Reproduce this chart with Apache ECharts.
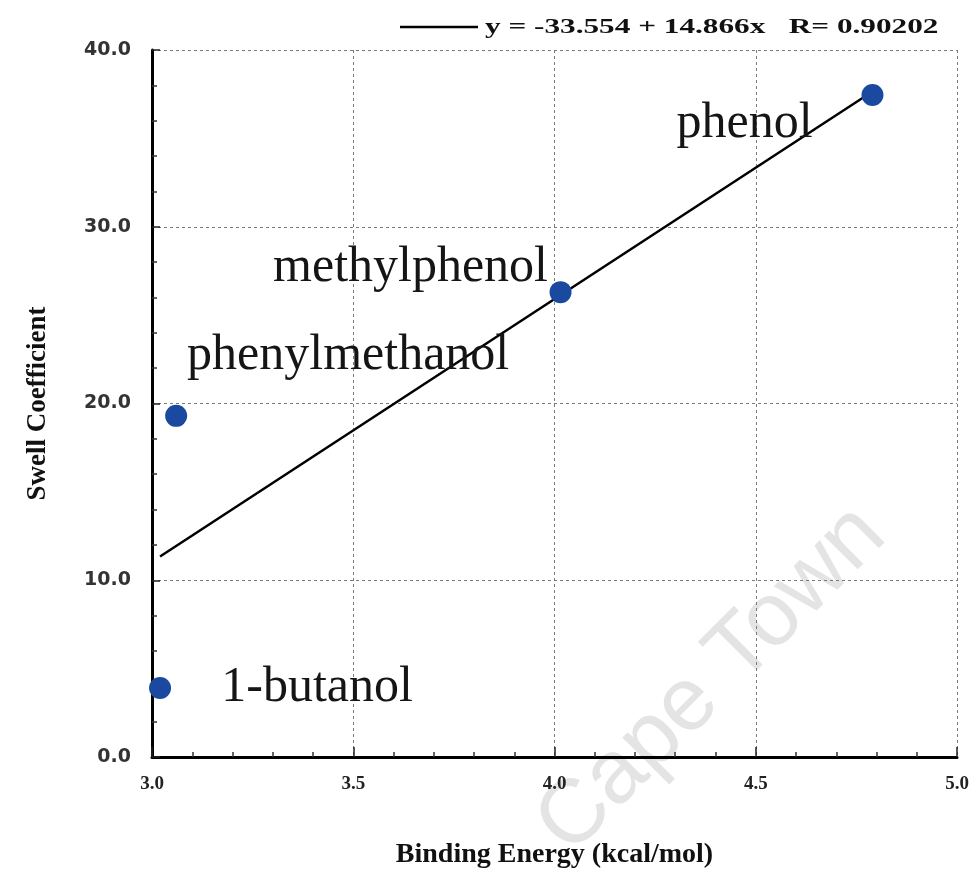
<!DOCTYPE html>
<html><head><meta charset="utf-8">
<script src="https://cdn.jsdelivr.net/npm/echarts@6/dist/echarts.min.js"></script>
<style>html,body{margin:0;padding:0;background:#fff}#c{width:974px;height:879px}</style>
</head><body><div id="c"></div>
<script>
const names = ['1-butanol', 'phenylmethanol', 'methylphenol', 'phenol'];
const bindingEnergy = [3.02, 3.06, 4.015, 4.79];
const swellCoeff = [3.9, 19.3, 26.3, 37.45];
const fitX = [3.02, 4.79];
const fitY = [11.34, 37.65];
const fitLabel = 'y = -33.554 + 14.866x   R= 0.90202';
const xTicks = [3.0, 3.5, 4.0, 4.5, 5.0];
const yTicks = [0, 10, 20, 30, 40];

const labelOffsets = {
  '1-butanol': [157, 0],
  'phenylmethanol': [172, -60],
  'methylphenol': [-150, -24],
  'phenol': [-128, 29]
};

const chart = echarts.init(document.getElementById('c'));
const serif = '"Liberation Serif", "Times New Roman", serif';
chart.setOption({
  animation: false,
  backgroundColor: '#fff',
  grid: { left: 152, right: 17, top: 50, bottom: 122 },
  legend: { show: false, data: [fitLabel] },
  xAxis: {
    type: 'value', min: xTicks[0], max: xTicks[xTicks.length - 1], interval: 0.5,
    name: 'Binding Energy (kcal/mol)', nameLocation: 'middle', nameGap: 84,
    nameTextStyle: { fontFamily: serif, fontWeight: 'bold', fontSize: 28, color: '#111' },
    axisLine: { lineStyle: { color: '#000', width: 3 } },
    axisTick: { inside: true, length: 10, lineStyle: { color: '#222', width: 1.5 } },
    minorTick: { show: true, splitNumber: 5, length: 5, lineStyle: { color: '#333', width: 1.5 } },
    axisLabel: { margin: 18, fontFamily: serif, fontWeight: 'bold', fontSize: 19, color: '#222',
      formatter: v => v.toFixed(1) },
    splitLine: { show: true, lineStyle: { color: '#7a7a7a', type: [3, 3], width: 1 } }
  },
  yAxis: {
    type: 'value', min: yTicks[0], max: yTicks[yTicks.length - 1], interval: 10,
    name: 'Swell Coefficient', nameLocation: 'middle', nameGap: 100,
    nameTextStyle: { fontFamily: serif, fontWeight: 'bold', fontSize: 27, color: '#111' },
    axisLine: { lineStyle: { color: '#000', width: 3 } },
    axisTick: { inside: true, length: 8, lineStyle: { color: '#222', width: 1.5 } },
    minorTick: { show: true, splitNumber: 5, length: 5, lineStyle: { color: '#333', width: 1.5 } },
    axisLabel: { margin: 21, fontFamily: '"DejaVu Sans", sans-serif', fontWeight: 'bold', fontSize: 19, color: '#333',
      formatter: v => v.toFixed(1) },
    splitLine: { show: true, lineStyle: { color: '#7a7a7a', type: [3, 3], width: 1 } }
  },
  graphic: [
    {
      type: 'text', x: 712, y: 680, rotation: Math.PI / 4, silent: true, z: 0,
      style: { text: 'Cape Town', fill: '#e4e4e4', font: '90px "Liberation Sans", Arial, sans-serif',
        align: 'center', verticalAlign: 'middle' }
    },
    {
      type: 'line', silent: true, z: 10,
      shape: { x1: 400, y1: 27, x2: 478, y2: 27 },
      style: { stroke: '#000', lineWidth: 2.5 }
    },
    {
      type: 'text', x: 485, y: 27, scaleX: 1.42, scaleY: 1, silent: true, z: 10,
      style: { text: fitLabel, fill: '#111', font: 'bold 22px "Liberation Serif", serif',
        align: 'left', verticalAlign: 'middle' }
    }
  ],
  series: [
    {
      name: fitLabel, type: 'line', symbol: 'none', z: 3,
      lineStyle: { color: '#000', width: 2.5 }, itemStyle: { color: '#000' },
      data: fitX.map((x, i) => [x, fitY[i]])
    },
    {
      name: 'points', type: 'scatter', symbolSize: 22, z: 4,
      itemStyle: { color: '#1a4aa0', opacity: 1 },
      label: {
        show: true, position: 'inside', align: 'center', verticalAlign: 'middle',
        fontFamily: serif, fontSize: 50, color: '#151515', opacity: 1, textBorderWidth: 0,
        formatter: p => p.data.name
      },
      data: names.map((n, i) => ({
        name: n, value: [bindingEnergy[i], swellCoeff[i]],
        label: { offset: labelOffsets[n] }
      }))
    }
  ]
});
</script></body></html>
